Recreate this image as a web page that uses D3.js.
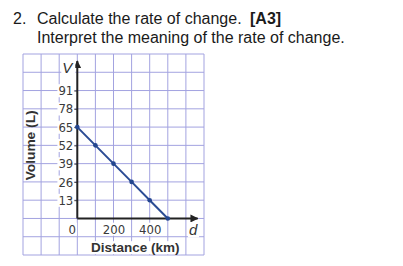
<!DOCTYPE html>
<html>
<head>
<meta charset="utf-8">
<script src="https://cdn.jsdelivr.net/npm/d3@7"></script>
<style>
  body { margin: 0; background: #fff; }
  svg { display: block; }
  .q { font-family: "Liberation Sans", Arial, sans-serif; font-size: 16px; fill: #1a1a1a; }
  .num { font-family: "DejaVu Sans Condensed", "Liberation Sans", sans-serif; font-size: 13px; fill: #3a3a3a; }
  .lbl { font-family: "Liberation Sans", Arial, sans-serif; font-size: 13.5px; font-weight: bold; fill: #333; }
</style>
</head>
<body>
<svg id="chart" width="403" height="266"></svg>
<script>
const distance = [0, 100, 200, 300, 400, 500];
const volume = [65, 52, 39, 26, 13, 0];
const yTickValues = [13, 26, 39, 52, 65, 78, 91];
const xTickValues = [0, 200, 400];
const xGrid = [-300, -200, -100, 0, 100, 200, 300, 400, 500, 600, 700];
const yGrid = [-26, -13, 0, 13, 26, 39, 52, 65, 78, 91, 104, 117];

const svg = d3.select("#chart");

// question text
const t1 = svg.append("text").attr("class", "q").attr("y", 24);
t1.append("tspan").attr("x", 13).text("2.");
t1.append("tspan").attr("x", 37).text("Calculate the rate of change.");
t1.append("tspan").attr("x", 250).attr("font-weight", "bold").text("[A3]");
svg.append("text").attr("class", "q").attr("x", 37).attr("y", 43)
    .text("Interpret the meaning of the rate of change.");

// scales
const x = d3.scaleLinear().domain([-300, 700]).range([23, 204]);
const y = d3.scaleLinear().domain([-26, 117]).range([255, 54]);

// grid
const grid = svg.append("g").attr("stroke", "#a3a3e0").attr("stroke-width", 1);
grid.selectAll("line.v").data(xGrid).enter().append("line")
    .attr("x1", d => x(d)).attr("x2", d => x(d))
    .attr("y1", y(-26)).attr("y2", y(117));
grid.selectAll("line.h").data(yGrid).enter().append("line")
    .attr("x1", x(-300)).attr("x2", x(700))
    .attr("y1", d => y(d)).attr("y2", d => y(d));

// arrow head
svg.append("defs").append("marker")
    .attr("id", "arrow").attr("viewBox", "0 0 10 10")
    .attr("refX", 9).attr("refY", 5)
    .attr("markerWidth", 4).attr("markerHeight", 4)
    .attr("orient", "auto")
    .append("path").attr("d", "M0,0 L10,5 L0,10 Z").attr("fill", "#222");

// put a white box behind a text so grid lines do not cross it
function backing(sel) {
    sel.each(function() {
        const b = this.getBBox();
        d3.select(this.parentNode).insert("rect", () => this)
            .attr("x", b.x - 1).attr("y", b.y + 1)
            .attr("width", b.width + 2).attr("height", b.height - 2)
            .attr("fill", "#fff");
    });
}

// y ticks
const yAxis = svg.append("g")
    .attr("transform", `translate(${x(0)},0)`)
    .call(d3.axisLeft(y).tickValues(yTickValues).tickSize(4).tickPadding(0));
yAxis.select(".domain").remove();
yAxis.selectAll(".tick line").attr("stroke", "#444");
yAxis.selectAll(".tick text").attr("class", "num").attr("font-size", null).attr("font-family", null).attr("fill", null);
backing(yAxis.selectAll(".tick text"));

// x ticks
const xAxis = svg.append("g")
    .attr("transform", `translate(0,${y(0)})`)
    .call(d3.axisBottom(x).tickValues(xTickValues).tickSize(0).tickPadding(6));
xAxis.select(".domain").remove();
xAxis.selectAll(".tick text").attr("class", "num").attr("font-size", null).attr("font-family", null).attr("fill", null);
xAxis.selectAll(".tick").filter(d => d === 0).attr("transform", `translate(${x(0) - 5},0)`);
backing(xAxis.selectAll(".tick text"));

// axes lines
svg.append("line")
    .attr("x1", x(0)).attr("x2", x(0))
    .attr("y1", y(0)).attr("y2", y(112))
    .attr("stroke", "#222").attr("stroke-width", 2)
    .attr("marker-end", "url(#arrow)");
svg.append("line")
    .attr("x1", x(0)).attr("x2", x(665))
    .attr("y1", y(0)).attr("y2", y(0))
    .attr("stroke", "#222").attr("stroke-width", 2)
    .attr("marker-end", "url(#arrow)");

// axis letters
const vl = svg.append("text").attr("x", x(0) - 10).attr("y", y(108) + 6)
    .attr("text-anchor", "middle").attr("font-style", "italic")
    .attr("font-family", "Liberation Sans, sans-serif").attr("font-size", 15).attr("fill", "#333")
    .text("V");
const dl = svg.append("text").attr("x", x(640)).attr("y", y(0) + 17)
    .attr("text-anchor", "middle").attr("font-style", "italic")
    .attr("font-family", "Liberation Sans, sans-serif").attr("font-size", 15).attr("fill", "#333")
    .text("d");
backing(vl);
backing(dl);

// axis titles
const vt = svg.append("text").attr("class", "lbl")
    .attr("transform", `translate(${x(-235)},${y(52)}) rotate(-90)`)
    .attr("text-anchor", "middle")
    .attr("textLength", 70).attr("lengthAdjust", "spacingAndGlyphs")
    .text("Volume (L)");
backing(vt);
const dt = svg.append("text").attr("class", "lbl")
    .attr("x", x(320)).attr("y", y(-24))
    .attr("text-anchor", "middle")
    .text("Distance (km)");
backing(dt);

// data line and points
const line = d3.line().x((d, i) => x(distance[i])).y(d => y(d));
svg.append("path").datum(volume)
    .attr("d", line)
    .attr("fill", "none").attr("stroke", "#2b4c95").attr("stroke-width", 2);
svg.selectAll("circle.pt").data(volume).enter().append("circle")
    .attr("cx", (d, i) => x(distance[i])).attr("cy", d => y(d))
    .attr("r", 2.3).attr("fill", "#23468f");
</script>
</body>
</html>
